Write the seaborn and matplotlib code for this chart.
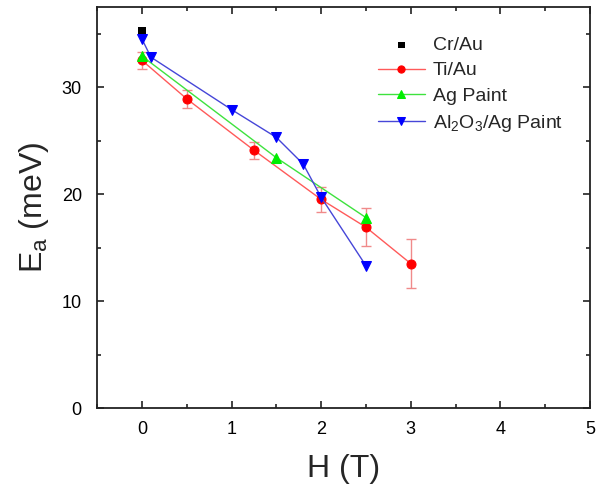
import numpy as np
import pandas as pd
import matplotlib
matplotlib.use("Agg")
import matplotlib.pyplot as plt
import seaborn as sns
from matplotlib.ticker import MultipleLocator

# 資料
cr_h = [0.0]
cr_e = [35.3]

ti_h = [0.0, 0.5, 1.25, 2.0, 2.5, 3.0]
ti_e = [32.5, 28.9, 24.1, 19.5, 16.9, 13.5]
ti_err = [0.8, 0.85, 0.8, 1.2, 1.8, 2.3]

ag_h = [0.0, 1.5, 2.5]
ag_e = [32.9, 23.4, 17.8]

al_h = [0.0, 0.1, 1.0, 1.5, 1.8, 2.0, 2.5]
al_e = [34.5, 32.8, 27.9, 25.3, 22.8, 19.7, 13.3]

sns.set_theme(style="ticks")
plt.rcParams['font.family'] = ['Liberation Sans', 'DejaVu Sans']

fig = plt.figure(figsize=(6.07, 4.91), dpi=100)
ax = fig.add_axes([0.160, 0.169, 0.812, 0.817])

# 誤差棒
ax.errorbar(ti_h, ti_e, yerr=ti_err, fmt='none', ecolor='#f08a8a',
            elinewidth=1.0, capsize=3.5, capthick=1.0, zorder=2)

sns.scatterplot(x=cr_h, y=cr_e, marker='s', color='black', s=30,
                edgecolor='none', label='Cr/Au', ax=ax, zorder=5)
sns.lineplot(x=ti_h, y=ti_e, color='#ff5a5a', lw=1.0, marker='o',
             markersize=6.5, markerfacecolor='#ff0000', markeredgecolor='#ff0000',
             sort=False, label='Ti/Au', ax=ax, zorder=3)
sns.lineplot(x=ag_h, y=ag_e, color='#3ee23e', lw=1.0, marker='^',
             markersize=7, markerfacecolor='#00ee00', markeredgecolor='#00ee00',
             sort=False, label='Ag Paint', ax=ax, zorder=4)
sns.lineplot(x=al_h, y=al_e, color='#4646d8', lw=1.0, marker='v',
             markersize=7, markerfacecolor='#0000ff', markeredgecolor='#0000ff',
             sort=False, label=r'Al$_\mathregular{2}$O$_\mathregular{3}$/Ag Paint',
             ax=ax, zorder=4)

ax.set_xlim(-0.5, 5)
ax.set_ylim(0, 37.5)
ax.xaxis.set_major_locator(MultipleLocator(1))
ax.xaxis.set_minor_locator(MultipleLocator(0.5))
ax.yaxis.set_major_locator(MultipleLocator(10))
ax.yaxis.set_minor_locator(MultipleLocator(5))
ax.tick_params(which='both', direction='in', top=True, right=True,
               width=1.2, colors='#222222', labelcolor='black')
ax.tick_params(which='major', length=5, labelsize=13)
ax.tick_params(which='minor', length=3)
ax.tick_params(axis='x', pad=9, labeltop=False)
ax.tick_params(axis='y', pad=11, labelright=False)
for sp in ax.spines.values():
    sp.set_linewidth(1.3)
    sp.set_color('#222222')

ax.set_xlabel('H (T)', fontsize=23, labelpad=12)
ax.set_ylabel(r'E$_\mathregular{a}$ (meV)', fontsize=23, labelpad=8)

leg = ax.legend(loc='upper right', bbox_to_anchor=(0.98, 0.97), frameon=False,
                fontsize=14, handlelength=2.4, handletextpad=0.4,
                labelspacing=0.4, markerscale=0.8)

fig.savefig('out.png', dpi=100)
